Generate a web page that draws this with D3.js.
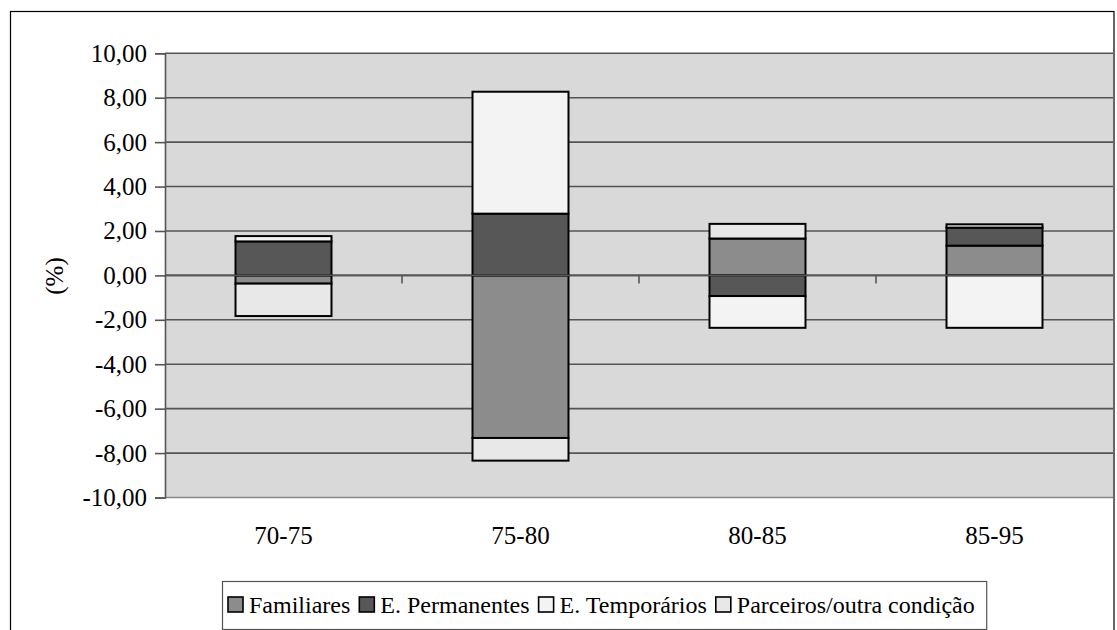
<!DOCTYPE html>
<html><head><meta charset="utf-8"><script src="https://cdn.jsdelivr.net/npm/d3@7"></script>
<style>
  svg text, svg .tick text { font-family: 'Liberation Serif', 'Times New Roman', Tinos, serif !important; }
</style>
</head>
<body style="margin:0;background:#fff">
<svg id="s" width="1117" height="630" style="display:block"></svg>
<script>
// Periods and series
const categories = ["70-75", "75-80", "80-85", "85-95"];
const seriesNames = ["Familiares", "E. Permanentes", "E. Temporários", "Parceiros/outra condição"];
const familiares   = [-0.37, -7.32,  1.66,  1.34];
const permanentes  = [ 1.53,  2.78, -0.93,  0.81];
const temporarios  = [ 0.24,  5.49, -1.43, -2.36];
const parceiros    = [-1.46, -1.02,  0.66,  0.15];
const yTicks = [-10, -8, -6, -4, -2, 0, 2, 4, 6, 8, 10];
const colors = ["#8c8c8c", "#575757", "#f3f3f3", "#e8e8e8"];

const FONT = "'Liberation Serif', serif";
const serifText = sel => sel.attr("font-family", "Liberation Serif").style("font-family", FONT);

const seriesValues = [familiares, permanentes, temporarios, parceiros];
const rows = categories.map((c, i) => {
  const r = { cat: c };
  seriesNames.forEach((s, k) => { r[s] = seriesValues[k][i]; });
  return r;
});

const svg = d3.select("#s");
const plot = { left: 165, right: 1113, top: 53.3, bottom: 497.5 };

// outer chart frame
svg.append("rect")
  .attr("x", 10.5).attr("y", 11.5)
  .attr("width", 1103.5).attr("height", 700)
  .attr("fill", "#fff").attr("stroke", "#000").attr("stroke-width", 1.2);

const x = d3.scaleBand()
  .domain(categories)
  .range([plot.left, plot.right])
  .paddingInner(0.595)
  .paddingOuter(0.2975);

const y = d3.scaleLinear().domain([-10, 10]).range([plot.bottom, plot.top]);

// plot area
svg.append("rect")
  .attr("x", plot.left).attr("y", plot.top)
  .attr("width", plot.right - plot.left).attr("height", plot.bottom - plot.top)
  .attr("fill", "#d9d9d9");

// gridlines
svg.append("g")
  .selectAll("line")
  .data(yTicks)
  .join("line")
  .attr("x1", plot.left).attr("x2", plot.right)
  .attr("y1", d => y(d)).attr("y2", d => y(d))
  .attr("stroke", d => d === -10 ? "#8a8a8a" : "#555")
  .attr("stroke-width", 1.6);

// y axis, decimal comma and plain hyphen for negatives
const fmt = v => d3.format(".2f")(v).replace(".", ",").replace("\u2212", "-");
const yAxis = svg.append("g")
  .attr("transform", `translate(${plot.left},0)`)
  .call(d3.axisLeft(y).tickValues(yTicks).tickFormat(fmt).tickSize(10).tickPadding(8));
yAxis.attr("font-size", 25);
serifText(yAxis);
yAxis.select(".domain").attr("stroke", "#555").attr("stroke-width", 1.6);
yAxis.selectAll(".tick line").attr("stroke", "#555").attr("stroke-width", 1.6);
serifText(yAxis.selectAll(".tick text").attr("fill", "#000"));

// stacked bars
const stack = d3.stack().keys(seriesNames).offset(d3.stackOffsetDiverging);
const layers = stack(rows);

svg.append("g")
  .selectAll("g")
  .data(layers)
  .join("g")
  .attr("fill", (d, i) => colors[i])
  .selectAll("rect")
  .data(d => d)
  .join("rect")
  .attr("x", d => x(d.data.cat))
  .attr("width", x.bandwidth())
  .attr("y", d => y(Math.max(d[0], d[1])))
  .attr("height", d => Math.abs(y(d[0]) - y(d[1])))
  .attr("stroke", "#000")
  .attr("stroke-width", 2);

// category axis along zero
const step = x.step();
svg.append("line")
  .attr("x1", plot.left).attr("x2", plot.right)
  .attr("y1", y(0)).attr("y2", y(0))
  .attr("stroke", "#555").attr("stroke-width", 1.6);
const boundaries = categories.slice(0, -1).map(c => x(c) + x.bandwidth() + (step - x.bandwidth()) / 2);
svg.append("g")
  .selectAll("line")
  .data(boundaries)
  .join("line")
  .attr("x1", d => d).attr("x2", d => d)
  .attr("y1", y(0)).attr("y2", y(0) + 8)
  .attr("stroke", "#555").attr("stroke-width", 1.6);

// category labels
serifText(svg.append("g")
  .selectAll("text")
  .data(categories)
  .join("text")
  .attr("x", d => x(d) + x.bandwidth() / 2)
  .attr("y", 544)
  .attr("text-anchor", "middle")
  .attr("font-size", 25)
  .text(d => d));

// y axis title
serifText(svg.append("text")
  .attr("transform", "translate(63,276) rotate(-90)")
  .attr("text-anchor", "middle")
  .attr("font-size", 25)
  .text("(%)"));

// legend: items laid out left to right from their measured text widths
const legend = svg.append("g");
const legendBox = legend.append("rect")
  .attr("x", 222.5).attr("y", 581.5)
  .attr("height", 48)
  .attr("fill", "#fff").attr("stroke", "#555").attr("stroke-width", 1.2);
let lx = 228;
seriesNames.forEach((name, i) => {
  legend.append("rect")
    .attr("x", lx).attr("y", 597)
    .attr("width", 15).attr("height", 15)
    .attr("fill", colors[i])
    .attr("stroke", "#000").attr("stroke-width", 1.6);
  const t = serifText(legend.append("text")
    .attr("x", lx + 21).attr("y", 613)
    .attr("font-size", 24)
    .text(name));
  lx += 21 + t.node().getComputedTextLength() + 9;
});
legendBox.attr("width", Math.max(696, lx - 222.5 + 3));
</script>
</body>
</html>
